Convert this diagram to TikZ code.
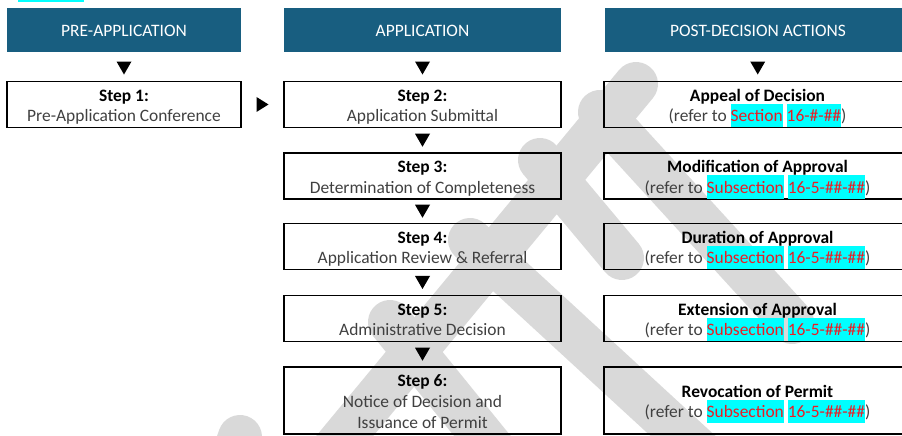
\documentclass[tikz,border=0pt]{standalone}
\usepackage{fontspec}
\setmainfont{Carlito}
\usetikzlibrary{calc,positioning}

\definecolor{azulcab}{RGB}{24,94,128}
\definecolor{grisTxt}{RGB}{64,64,64}
\definecolor{rojoRef}{RGB}{236,28,36}
\definecolor{cianRef}{RGB}{0,255,255}
\definecolor{grisMarca}{RGB}{217,217,217}

\newcommand{\firstline}[1]{{\color{black}\bfseries\rule{0pt}{18bp}#1}}
\newcommand{\lastline}[1]{#1\rule[-4bp]{0pt}{0pt}}
\newcommand{\hlref}[1]{\smash{\setlength{\fboxsep}{0pt}\colorbox{cianRef}{\rule[-5.5bp]{0pt}{23.5bp}\textcolor{rojoRef}{#1}}}}

\begin{document}
\begin{tikzpicture}[x=1bp, y=-1bp,
	head/.style={fill=azulcab, text=white, inner sep=0pt, minimum height=44bp, text height=14bp, text depth=0pt, font=\fontsize{17.5}{21}\selectfont},
	stepbox/.style={draw=black, line width=1.1bp, inner sep=0pt, minimum height=46bp, align=center, text=grisTxt, font=\fontsize{17.5}{21}\selectfont},
	wmark/.style={grisMarca, line width=44bp, line cap=round}]
	\useasboundingbox (0,0) rectangle (902,436);
	\clip (0,0) rectangle (902,436);
	
	%Marca de agua
	\draw[wmark] (300,490) -- (636,84);
	\draw[wmark] (600,112) -- (792,322);
	\draw[wmark] (540,160) -- (622,258);
	\draw[wmark] (470,240) -- (720,470);
	\draw[wmark] (390,322) -- (510,470);
	\draw[wmark] (240,437) -- (225,480);
	\fill[cianRef] (18,0) rectangle (84,2.5);
	
	%Encabezados
	\node[head, minimum width=234bp] (h1) at (124,30) {PRE-APPLICATION};
	\node[head, minimum width=277bp] (h2) at (422.5,30) {APPLICATION};
	\node[head, minimum width=306bp] (h3) at (758,30) {POST-DECISION ACTIONS};
	
	%Pasos
	\node[stepbox, minimum width=234bp] (s1) at (124,104.5) {\firstline{Step 1:}\\\lastline{Pre-Application Conference}};
	\node[stepbox, minimum width=277bp] (s2) at (422.5,104.5) {\firstline{Step 2:}\\\lastline{Application Submittal}};
	\node[stepbox, minimum width=277bp] (s3) at (422.5,176) {\firstline{Step 3:}\\\lastline{Determination of Completeness}};
	\node[stepbox, minimum width=277bp] (s4) at (422.5,246.5) {\firstline{Step 4:}\\\lastline{Application Review \& Referral}};
	\node[stepbox, minimum width=277bp] (s5) at (422.5,318.5) {\firstline{Step 5:}\\\lastline{Administrative Decision}};
	\node[stepbox, minimum width=277bp, minimum height=67bp] (s6) at (422.5,400.5) {\firstline{Step 6:}\\Notice of Decision and\\\lastline{Issuance of Permit}};
	
	%Acciones
	\node[stepbox, minimum width=307bp] (a1) at (757.5,104.5) {\firstline{Appeal of Decision}\\\lastline{(refer to \hlref{Section} \hlref{16-\#-\#\#})}};
	\node[stepbox, minimum width=307bp] (a2) at (757.5,176) {\firstline{Modification of Approval}\\\lastline{(refer to \hlref{Subsection} \hlref{16-5-\#\#-\#\#})}};
	\node[stepbox, minimum width=307bp] (a3) at (757.5,246.5) {\firstline{Duration of Approval}\\\lastline{(refer to \hlref{Subsection} \hlref{16-5-\#\#-\#\#})}};
	\node[stepbox, minimum width=307bp] (a4) at (757.5,318.5) {\firstline{Extension of Approval}\\\lastline{(refer to \hlref{Subsection} \hlref{16-5-\#\#-\#\#})}};
	\node[stepbox, minimum width=307bp, minimum height=67bp] (a5) at (757.5,400.5) {\firstline{Revocation of Permit}\\\lastline{(refer to \hlref{Subsection} \hlref{16-5-\#\#-\#\#})}};
	
	%Flechas
	\fill ($(h1.south)!0.55!(s1.north)$) +(-7.5,-6.5) -- +(7.5,-6.5) -- +(0,6.5) -- cycle;
	\fill ($(h2.south)!0.55!(s2.north)$) +(-7.5,-6.5) -- +(7.5,-6.5) -- +(0,6.5) -- cycle;
	\fill ($(h3.south)!0.55!(a1.north)$) +(-7.5,-6.5) -- +(7.5,-6.5) -- +(0,6.5) -- cycle;
	\fill ($(s2.south)!0.5!(s3.north)$) +(-7.5,-6.5) -- +(7.5,-6.5) -- +(0,6.5) -- cycle;
	\fill ($(s3.south)!0.5!(s4.north)$) +(-7.5,-6.5) -- +(7.5,-6.5) -- +(0,6.5) -- cycle;
	\fill ($(s4.south)!0.5!(s5.north)$) +(-7.5,-6.5) -- +(7.5,-6.5) -- +(0,6.5) -- cycle;
	\fill ($(s5.south)!0.5!(s6.north)$) +(-7.5,-6.5) -- +(7.5,-6.5) -- +(0,6.5) -- cycle;
	\fill ($(s1.east)!0.5!(s2.west)$) +(-6,-7.5) -- +(-6,7.5) -- +(6,0) -- cycle;
\end{tikzpicture}
\end{document}
